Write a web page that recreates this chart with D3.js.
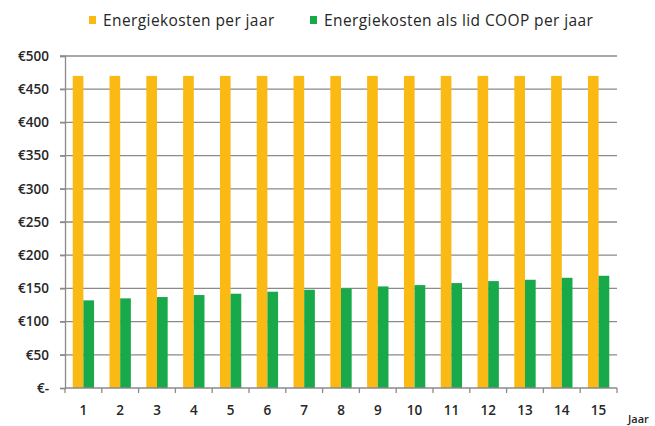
<!DOCTYPE html>
<html>
<head>
<meta charset="utf-8">
<script src="https://cdn.jsdelivr.net/npm/d3@7"></script>
<style>
    body { margin: 0; background: #fff; }
    svg text { font-family: "Open Sans", "DejaVu Sans", sans-serif; fill: #262626; }
</style>
</head>
<body>
<svg id="chart" width="655" height="426"></svg>
<script>
// data
const years = ['1', '2', '3', '4', '5', '6', '7', '8', '9', '10', '11', '12', '13', '14', '15']
const seriesNames = ['Energiekosten per jaar', 'Energiekosten als lid COOP per jaar']
const kosten = [470, 470, 470, 470, 470, 470, 470, 470, 470, 470, 470, 470, 470, 470, 470]
const kostenCoop = [132, 135, 137, 140, 142, 145, 148, 150, 153, 155, 158, 161, 163, 166, 169]
const yTicks = [0, 50, 100, 150, 200, 250, 300, 350, 400, 450, 500]
const colors = ['#fbb914', '#17a94a']

const svg = d3.select('#chart')
const margin = { left: 65, right: 38, top: 56, bottom: 38 }
const width = 655, height = 426

const x = d3.scaleBand()
    .domain(years)
    .range([margin.left, width - margin.right])
    .paddingInner(0.42)
    .paddingOuter(0.21)

const xSub = d3.scaleBand()
    .domain([0, 1])
    .range([0, x.bandwidth()])

const y = d3.scaleLinear()
    .domain([0, 500])
    .range([height - margin.bottom, margin.top])

const fmt = v => v === 0 ? '€-' : '€' + v

// gridlines
svg.append('g')
    .selectAll('line')
    .data(yTicks.slice(1))
    .enter().append('line')
    .attr('x1', margin.left - 5)
    .attr('x2', width - margin.right)
    .attr('y1', d => y(d))
    .attr('y2', d => y(d))
    .style('stroke', '#8a8a8a')
    .style('stroke-width', '1.3px')

// bars
const rows = years.map((yr, i) => ({ year: yr, values: [kosten[i], kostenCoop[i]] }))

const groups = svg.append('g')
    .selectAll('g')
    .data(rows)
    .enter().append('g')
    .attr('transform', d => `translate(${x(d.year)},0)`)

groups.selectAll('rect')
    .data(d => d.values.map((v, k) => ({ k, v })))
    .enter().append('rect')
    .attr('x', d => xSub(d.k))
    .attr('width', xSub.bandwidth())
    .attr('y', d => y(d.v))
    .attr('height', d => y(0) - y(d.v))
    .style('fill', d => colors[d.k])

// y axis
const yAxis = d3.axisLeft(y)
    .tickValues(yTicks)
    .tickFormat(fmt)
    .tickSize(5)
    .tickPadding(11)

const yG = svg.append('g')
    .attr('transform', `translate(${margin.left},0)`)
    .call(yAxis)
yG.select('.domain').style('stroke', '#8a8a8a').style('stroke-width', '1.3px')
yG.selectAll('.tick line').style('stroke', '#8a8a8a').style('stroke-width', '1.3px')
yG.selectAll('text')
    .style('font-size', '13.5px')
    .style('font-weight', '600')
    .style('font-family', '"Open Sans", sans-serif')
    .style('fill', '#262626')

// x axis
const xG = svg.append('g')
    .attr('transform', `translate(0,${y(0)})`)
xG.append('line')
    .attr('x1', margin.left)
    .attr('x2', width - margin.right)
    .style('stroke', '#8a8a8a')
    .style('stroke-width', '1.3px')

const step = x.step()
xG.selectAll('line.tick')
    .data(d3.range(years.length + 1))
    .enter().append('line')
    .attr('class', 'tick')
    .attr('x1', i => margin.left + i * step)
    .attr('x2', i => margin.left + i * step)
    .attr('y1', 0)
    .attr('y2', 5)
    .style('stroke', '#8a8a8a')
    .style('stroke-width', '1.3px')

xG.selectAll('text')
    .data(years)
    .enter().append('text')
    .attr('x', d => x(d) + x.bandwidth() / 2)
    .attr('y', 27)
    .attr('text-anchor', 'middle')
    .style('font-size', '13.5px')
    .style('font-weight', '600')
    .text(d => d)

svg.append('text')
    .attr('x', 628)
    .attr('y', 423)
    .style('font-size', '11px')
    .style('font-weight', '600')
    .text('Jaar')

// legend
const legendX = [89, 310]
const legend = svg.append('g')
    .selectAll('g')
    .data(seriesNames)
    .enter().append('g')
    .attr('transform', (d, i) => `translate(${legendX[i]},20)`)

legend.append('rect')
    .attr('x', 0)
    .attr('y', -4)
    .attr('width', 7)
    .attr('height', 8)
    .style('fill', (d, i) => colors[i])

legend.append('text')
    .attr('x', 14)
    .attr('y', 5.5)
    .style('font-size', '15.5px')
    .style('letter-spacing', '0.4px')
    .text(d => d)
</script>
</body>
</html>
